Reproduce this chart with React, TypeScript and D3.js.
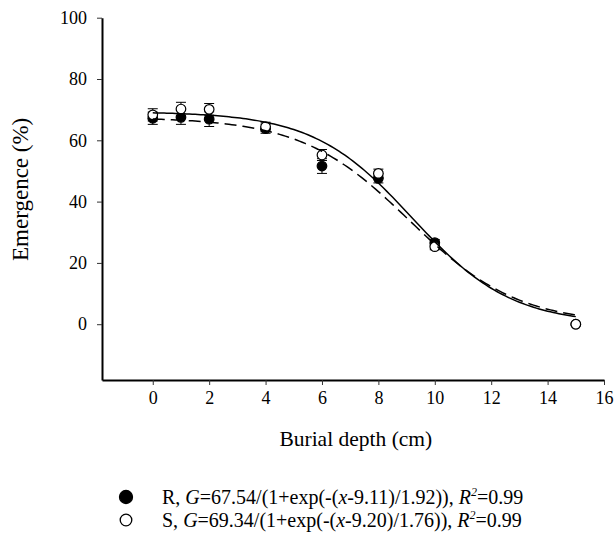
import { useEffect, useRef } from "react";
import * as d3 from "d3";

// burial depth (cm) and emergence (%) means with SE
const depths = [0, 1, 2, 4, 6, 8, 10, 15];
const rMean = [67.2, 67.5, 66.9, 63.8, 51.6, 47.6, 26.6, 0];
const rErr = [2.0, 2.3, 2.4, 1.5, 2.4, 1.5, 1.0, 0];
const sMean = [68.3, 70.2, 70.1, 64.4, 55.2, 49.2, 25.3, 0];
const sErr = [2.0, 2.2, 1.9, 1.5, 1.8, 1.4, 1.0, 0];

// fitted logistic parameters [G, x50, b]
const rFit = [67.54, 9.11, 1.92];
const sFit = [69.34, 9.2, 1.76];

const xTicks = [0, 2, 4, 6, 8, 10, 12, 14, 16];
const yTicks = [0, 20, 40, 60, 80, 100];

const FONT = "Liberation Serif";

function draw(el: SVGSVGElement) {
  const w = 614,
    h = 538;
  const svg = d3.select(el);
  svg.selectAll("*").remove();
  svg.attr("width", w).attr("height", h).attr("viewBox", `0 0 ${w} ${h}`);

  const x = d3.scaleLinear().domain([-1.8, 16]).range([102, 604]);
  const y = d3.scaleLinear().domain([-18.2, 100]).range([380, 17.7]);

  // axes
  const gx = svg
    .append("g")
    .attr("transform", `translate(0,${y(-18.2)})`)
    .call(d3.axisBottom(x).tickValues(xTicks).tickSize(5).tickSizeOuter(0).tickPadding(6));
  const gy = svg
    .append("g")
    .attr("transform", `translate(${x(-1.8)},0)`)
    .call(d3.axisLeft(y).tickValues(yTicks).tickSize(5).tickSizeOuter(0).tickPadding(10));

  [gx, gy].forEach((g) => {
    g.attr("font-family", FONT).attr("font-size", 18);
    g.select(".domain").attr("stroke", "#000").attr("stroke-width", 2);
    g.selectAll(".tick line").attr("stroke", "#333").attr("stroke-width", 1);
    g.selectAll(".tick text").attr("fill", "#000").attr("font-family", FONT);
  });

  // points with error bars
  const series = [
    { mean: rMean, err: rErr, fill: "#000" },
    { mean: sMean, err: sErr, fill: "#fff" },
  ];
  series.forEach((s) => {
    const g = svg.append("g");
    depths.forEach((d, i) => {
      const cx = x(d);
      const lo = y(s.mean[i] - s.err[i]);
      const hi = y(s.mean[i] + s.err[i]);
      if (s.err[i] > 0) {
        g.append("line").attr("x1", cx).attr("x2", cx).attr("y1", lo).attr("y2", hi).attr("stroke", "#000");
        [lo, hi].forEach((yy) =>
          g.append("line").attr("x1", cx - 5).attr("x2", cx + 5).attr("y1", yy).attr("y2", yy).attr("stroke", "#000")
        );
      }
      g.append("circle")
        .attr("cx", cx)
        .attr("cy", y(s.mean[i]))
        .attr("r", 4.8)
        .attr("fill", s.fill)
        .attr("stroke", "#000")
        .attr("stroke-width", 1.2);
    });
  });

  // fitted curves
  const grid = d3.range(0, 15.01, 0.1);
  const fit = (p: number[]) => (t: number) => p[0] / (1 + Math.exp((t - p[1]) / p[2]));
  const line = (f: (t: number) => number) =>
    d3
      .line<number>()
      .x((t) => x(t))
      .y((t) => y(f(t)))(grid);

  svg
    .append("path")
    .attr("d", line(fit(sFit)))
    .attr("fill", "none")
    .attr("stroke", "#000")
    .attr("stroke-width", 1.5);
  svg
    .append("path")
    .attr("d", line(fit(rFit)))
    .attr("fill", "none")
    .attr("stroke", "#000")
    .attr("stroke-width", 1.5)
    .attr("stroke-dasharray", "12,6");

  // axis titles
  svg
    .append("text")
    .attr("transform", `translate(28,${y(44)}) rotate(-90)`)
    .attr("text-anchor", "middle")
    .attr("font-family", FONT)
    .attr("font-size", 23)
    .text("Emergence (%)");
  svg
    .append("text")
    .attr("x", x(7.2))
    .attr("y", 446)
    .attr("text-anchor", "middle")
    .attr("font-family", FONT)
    .attr("font-size", 21.5)
    .text("Burial depth (cm)");

  // legend
  const legend = [
    { label: "R", fit: rFit, fill: "#000", r2: "0.99" },
    { label: "S", fit: sFit, fill: "#fff", r2: "0.99" },
  ];
  legend.forEach((l, i) => {
    const ly = 497 + i * 23;
    svg
      .append("circle")
      .attr("cx", 126)
      .attr("cy", ly)
      .attr("r", i === 0 ? 6.5 : 5.8)
      .attr("fill", l.fill)
      .attr("stroke", "#000")
      .attr("stroke-width", 1.3);
    const t = svg
      .append("text")
      .attr("x", 162)
      .attr("y", ly + 7)
      .attr("font-family", FONT)
      .attr("font-size", 20);
    t.append("tspan").text(`${l.label}, `);
    t.append("tspan").attr("font-style", "italic").text("G");
    t.append("tspan").text(`=${l.fit[0].toFixed(2)}/(1+exp(-(`);
    t.append("tspan").attr("font-style", "italic").text("x");
    t.append("tspan").text(`-${l.fit[1].toFixed(2)})/${l.fit[2].toFixed(2)})), `);
    t.append("tspan").attr("font-style", "italic").text("R");
    t.append("tspan").attr("font-style", "italic").attr("font-size", 12).attr("dy", -8).text("2");
    t.append("tspan").attr("dy", 8).text(`=${l.r2}`);
  });
}

export default function App() {
  const ref = useRef<SVGSVGElement>(null);
  useEffect(() => {
    if (ref.current) draw(ref.current);
  }, []);
  return <svg ref={ref} style={{ position: "absolute", left: 0, top: 0, background: "#fff" }} />;
}
